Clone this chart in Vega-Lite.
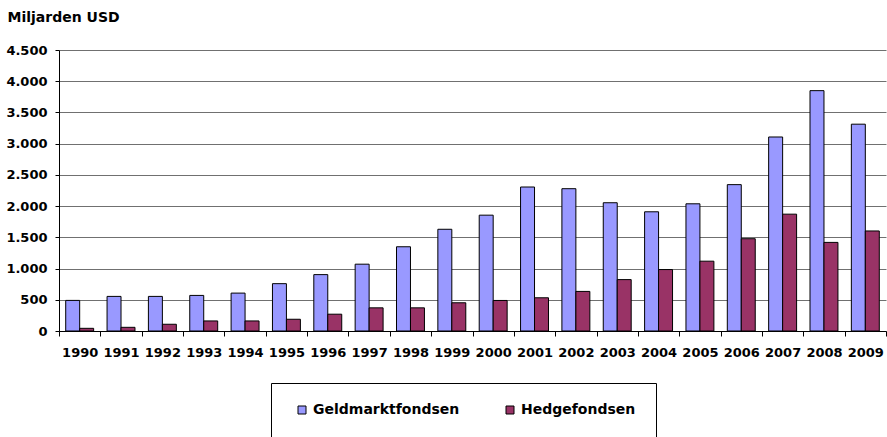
{
  "$schema": "https://vega.github.io/schema/vega-lite/v6.json",
  "width": 827,
  "height": 281,
  "autosize": {"type": "none"},
  "padding": {"left": 59, "top": 50, "right": 1, "bottom": 106},
  "background": "white",
  "config": {
    "view": {"stroke": null},
    "font": "DejaVu Sans"
  },
  "data": {
    "values": [
      {"year": "1990", "series": "Geldmarktfondsen", "value": 490},
      {"year": "1990", "series": "Hedgefondsen", "value": 43},
      {"year": "1991", "series": "Geldmarktfondsen", "value": 554},
      {"year": "1991", "series": "Hedgefondsen", "value": 59},
      {"year": "1992", "series": "Geldmarktfondsen", "value": 554},
      {"year": "1992", "series": "Hedgefondsen", "value": 108},
      {"year": "1993", "series": "Geldmarktfondsen", "value": 570},
      {"year": "1993", "series": "Hedgefondsen", "value": 161},
      {"year": "1994", "series": "Geldmarktfondsen", "value": 607},
      {"year": "1994", "series": "Hedgefondsen", "value": 161},
      {"year": "1995", "series": "Geldmarktfondsen", "value": 758},
      {"year": "1995", "series": "Hedgefondsen", "value": 188},
      {"year": "1996", "series": "Geldmarktfondsen", "value": 903},
      {"year": "1996", "series": "Hedgefondsen", "value": 269},
      {"year": "1997", "series": "Geldmarktfondsen", "value": 1070},
      {"year": "1997", "series": "Hedgefondsen", "value": 371},
      {"year": "1998", "series": "Geldmarktfondsen", "value": 1349},
      {"year": "1998", "series": "Hedgefondsen", "value": 371},
      {"year": "1999", "series": "Geldmarktfondsen", "value": 1629},
      {"year": "1999", "series": "Hedgefondsen", "value": 452},
      {"year": "2000", "series": "Geldmarktfondsen", "value": 1855},
      {"year": "2000", "series": "Hedgefondsen", "value": 489},
      {"year": "2001", "series": "Geldmarktfondsen", "value": 2306},
      {"year": "2001", "series": "Hedgefondsen", "value": 532},
      {"year": "2002", "series": "Geldmarktfondsen", "value": 2279},
      {"year": "2002", "series": "Hedgefondsen", "value": 634},
      {"year": "2003", "series": "Geldmarktfondsen", "value": 2054},
      {"year": "2003", "series": "Hedgefondsen", "value": 823},
      {"year": "2004", "series": "Geldmarktfondsen", "value": 1909},
      {"year": "2004", "series": "Hedgefondsen", "value": 984},
      {"year": "2005", "series": "Geldmarktfondsen", "value": 2037},
      {"year": "2005", "series": "Hedgefondsen", "value": 1118},
      {"year": "2006", "series": "Geldmarktfondsen", "value": 2344},
      {"year": "2006", "series": "Hedgefondsen", "value": 1478},
      {"year": "2007", "series": "Geldmarktfondsen", "value": 3107},
      {"year": "2007", "series": "Hedgefondsen", "value": 1871},
      {"year": "2008", "series": "Geldmarktfondsen", "value": 3849},
      {"year": "2008", "series": "Hedgefondsen", "value": 1419},
      {"year": "2009", "series": "Geldmarktfondsen", "value": 3312},
      {"year": "2009", "series": "Hedgefondsen", "value": 1602}
    ]
  },
  "mark": {"type": "bar", "stroke": "black", "strokeWidth": 1},
  "encoding": {
    "x": {
      "field": "year",
      "type": "nominal",
      "scale": {"paddingInner": 0, "paddingOuter": 0},
      "axis": {
        "title": null,
        "labelAngle": 0,
        "labelFont": "DejaVu Sans",
        "labelFontWeight": "bold",
        "labelFontSize": 13,
        "labelColor": "black",
        "labelPadding": 10,
        "tickBand": "extent",
        "tickSize": 5,
        "tickColor": "black",
        "domainColor": "black",
        "grid": false
      }
    },
    "xOffset": {
      "field": "series",
      "type": "nominal",
      "scale": {"paddingInner": 0, "paddingOuter": 0.48}
    },
    "y": {
      "field": "value",
      "type": "quantitative",
      "scale": {"domain": [0, 4500], "nice": false},
      "axis": {
        "values": [0, 500, 1000, 1500, 2000, 2500, 3000, 3500, 4000, 4500],
        "labelExpr": "replace(format(datum.value, ','), ',', '.')",
        "labelFont": "DejaVu Sans",
        "labelFontWeight": "bold",
        "labelFontSize": 13,
        "labelColor": "black",
        "labelPadding": 8,
        "tickSize": 4,
        "tickColor": "black",
        "domainColor": "black",
        "gridColor": "#707070",
        "gridOpacity": 1,
        "title": "Miljarden USD",
        "titleAngle": 0,
        "titleAlign": "left",
        "titleBaseline": "alphabetic",
        "titleX": -52,
        "titleY": -29,
        "titleFont": "DejaVu Sans",
        "titleFontWeight": "bold",
        "titleFontSize": 14,
        "titleColor": "black"
      }
    },
    "color": {
      "field": "series",
      "type": "nominal",
      "scale": {"domain": ["Geldmarktfondsen", "Hedgefondsen"], "range": ["#9999FF", "#993366"]},
      "legend": {
        "title": null,
        "orient": "none",
        "legendX": 212,
        "legendY": 333,
        "direction": "horizontal",
        "strokeColor": "black",
        "fillColor": "white",
        "padding": 20,
        "symbolType": "square",
        "symbolSize": 64,
        "symbolStrokeColor": "black",
        "symbolStrokeWidth": 1,
        "symbolOpacity": 1,
        "symbolOffset": 4,
        "labelFont": "DejaVu Sans",
        "labelFontWeight": "bold",
        "labelFontSize": 14,
        "labelColor": "black",
        "labelOffset": 4,
        "columnPadding": 39,
        "labelLimit": 300
      }
    }
  }
}
